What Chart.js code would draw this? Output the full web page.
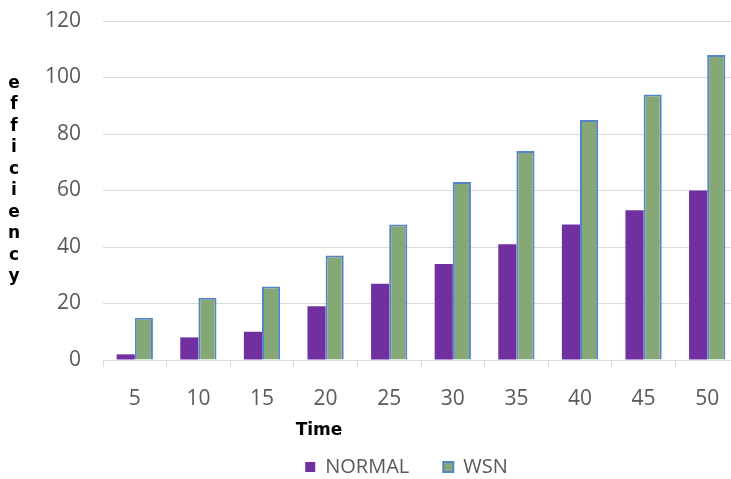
<!DOCTYPE html>
<html>
<head>
<meta charset="utf-8">
<script src="https://cdn.jsdelivr.net/npm/chart.js@4/dist/chart.umd.min.js"></script>
<style>
html,body{margin:0;padding:0;overflow:hidden;background:#fff;}
#wrap{position:relative;width:739px;height:479px;}
</style>
</head>
<body>
<div id="wrap"><canvas id="c"></canvas></div>
<script>
const categories = ['5','10','15','20','25','30','35','40','45','50'];
const normalValues = [2, 8, 10, 19, 27, 34, 41, 48, 53, 60];
const wsnValues = [15, 22, 26, 37, 48, 63, 74, 85, 94, 108];
const yTicks = [0, 20, 40, 60, 80, 100, 120];
const yTitle = 'efficiency';
const xTitle = 'Time';

const titlesPlugin = {
  id: 'titles',
  afterLayout(chart) {
    const lg = chart.legend;
    if (lg) { lg.left += 37; lg.right += 37; lg.top += 8; lg.bottom += 8; }
  },
  afterDraw(chart) {
    const ctx = chart.ctx;
    ctx.save();
    ctx.fillStyle = '#000';
    ctx.font = 'bold 17px "DejaVu Sans"';
    ctx.textAlign = 'center';
    ctx.textBaseline = 'middle';
    const letters = yTitle.split('');
    const step = 21.5;
    const startY = 180 - step * (letters.length - 1) / 2;
    letters.forEach((ch, i) => ctx.fillText(ch, 14, startY + i * step));
    ctx.fillText(xTitle, 319, 431);
    ctx.restore();
  }
};

new Chart(document.getElementById('c'), {
  type: 'bar',
  data: {
    labels: categories,
    datasets: [
      { label: 'NORMAL', data: normalValues, backgroundColor: '#7030A0', borderWidth: 0 },
      { label: 'WSN', data: wsnValues, backgroundColor: '#86A876', borderColor: '#5585C8', borderWidth: 2 }
    ]
  },
  options: {
    responsive: true,
    maintainAspectRatio: false,
    animation: false,
    layout: { padding: { left: 0, right: 0, top: 21, bottom: 0 } },
    datasets: { bar: { categoryPercentage: 0.57, barPercentage: 1.0 } },
    plugins: {
      legend: {
        position: 'bottom',
        labels: {
          boxWidth: 10, boxHeight: 10, padding: 34,
          color: '#595959',
          font: { family: '"Open Sans"', size: 20 }
        }
      },
      tooltip: { enabled: false }
    },
    scales: {
      x: {
        grid: { drawOnChartArea: false, drawTicks: true, tickLength: 7, color: '#d9d9d9', offset: true },
        border: { display: true, color: '#d9d9d9', width: 1 },
        ticks: { color: '#595959', font: { family: '"Open Sans"', size: 21 }, padding: 19 },
        afterFit(scale) { scale.height = 55; }
      },
      y: {
        min: 0, max: 120,
        afterBuildTicks(scale) { scale.ticks = yTicks.map(v => ({ value: v })); },
        grid: { color: '#d9d9d9', drawTicks: false },
        border: { display: false },
        ticks: { color: '#595959', font: { family: '"Open Sans"', size: 21 }, padding: 22 },
        afterFit(scale) { scale.width = 103; scale.paddingTop = 0; scale.paddingBottom = 0; }
      }
    }
  },
  plugins: [titlesPlugin]
});
</script>
</body>
</html>
